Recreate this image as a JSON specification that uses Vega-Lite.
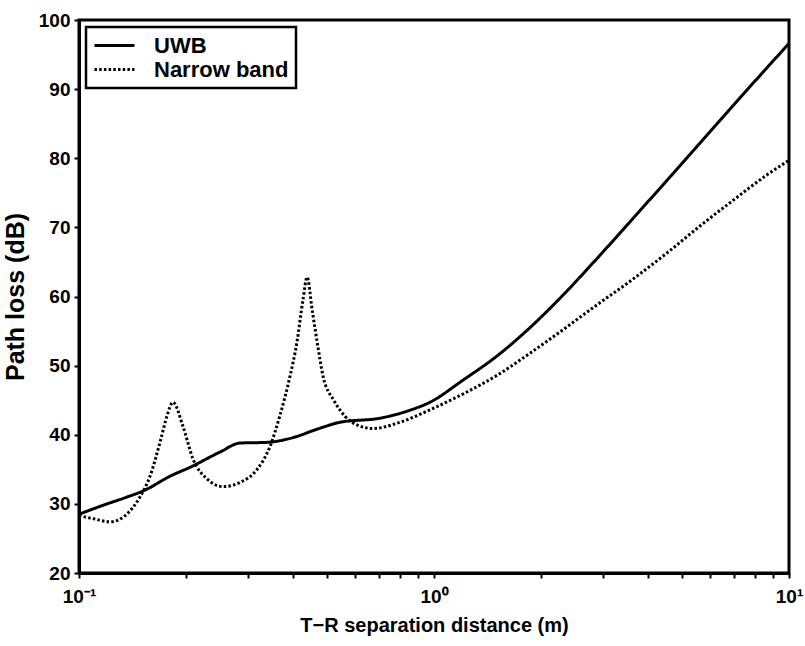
{
  "$schema": "https://vega.github.io/schema/vega-lite/v6.json",
  "width": 710,
  "height": 553,
  "autosize": {"type": "none"},
  "padding": {"left": 79, "top": 20, "right": 16, "bottom": 73},
  "background": "white",
  "config": {
    "view": {"stroke": "black", "strokeWidth": 3},
    "font": "Liberation Sans",
    "legend": {"strokeWidth": 2.5},
    "axis": {
      "grid": false,
      "ticks": true,
      "tickColor": "black",
      "tickWidth": 2,
      "domainColor": "black",
      "domainWidth": 3,
      "labelFont": "Liberation Sans",
      "labelFontWeight": "bold",
      "labelFontSize": 19,
      "labelColor": "black",
      "titleFont": "Liberation Sans",
      "titleFontWeight": "bold",
      "titleFontSize": 20,
      "titleColor": "black"
    }
  },
  "data": {
    "values": [
      {"d": 0.1, "loss": 28.5, "series": "UWB"},
      {"d": 0.1169, "loss": 29.8, "series": "UWB"},
      {"d": 0.135, "loss": 30.9, "series": "UWB"},
      {"d": 0.1535, "loss": 32.0, "series": "UWB"},
      {"d": 0.1804, "loss": 34.0, "series": "UWB"},
      {"d": 0.2056, "loss": 35.3, "series": "UWB"},
      {"d": 0.2496, "loss": 37.5, "series": "UWB"},
      {"d": 0.2843, "loss": 38.8, "series": "UWB"},
      {"d": 0.3388, "loss": 38.9, "series": "UWB"},
      {"d": 0.4013, "loss": 39.6, "series": "UWB"},
      {"d": 0.468, "loss": 40.8, "series": "UWB"},
      {"d": 0.5432, "loss": 41.8, "series": "UWB"},
      {"d": 0.7046, "loss": 42.4, "series": "UWB"},
      {"d": 0.85, "loss": 43.5, "series": "UWB"},
      {"d": 0.974, "loss": 44.7, "series": "UWB"},
      {"d": 1.207, "loss": 47.9, "series": "UWB"},
      {"d": 1.505, "loss": 51.4, "series": "UWB"},
      {"d": 1.864, "loss": 55.5, "series": "UWB"},
      {"d": 2.309, "loss": 60.2, "series": "UWB"},
      {"d": 2.879, "loss": 65.5, "series": "UWB"},
      {"d": 3.636, "loss": 71.3, "series": "UWB"},
      {"d": 4.532, "loss": 76.8, "series": "UWB"},
      {"d": 5.615, "loss": 82.2, "series": "UWB"},
      {"d": 6.955, "loss": 87.6, "series": "UWB"},
      {"d": 8.67, "loss": 93.1, "series": "UWB"},
      {"d": 10, "loss": 96.6, "series": "UWB"},
      {"d": 0.1, "loss": 28.3, "series": "Narrow band"},
      {"d": 0.111, "loss": 27.8, "series": "Narrow band"},
      {"d": 0.1223, "loss": 27.4, "series": "Narrow band"},
      {"d": 0.1348, "loss": 28.3, "series": "Narrow band"},
      {"d": 0.1485, "loss": 31.0, "series": "Narrow band"},
      {"d": 0.1585, "loss": 34.0, "series": "Narrow band"},
      {"d": 0.1701, "loss": 39.4, "series": "Narrow band"},
      {"d": 0.1769, "loss": 42.7, "series": "Narrow band"},
      {"d": 0.184, "loss": 44.7, "series": "Narrow band"},
      {"d": 0.1963, "loss": 41.2, "series": "Narrow band"},
      {"d": 0.2095, "loss": 36.5, "series": "Narrow band"},
      {"d": 0.2296, "loss": 33.6, "series": "Narrow band"},
      {"d": 0.2544, "loss": 32.5, "series": "Narrow band"},
      {"d": 0.2843, "loss": 33.1, "series": "Narrow band"},
      {"d": 0.3175, "loss": 35.0, "series": "Narrow band"},
      {"d": 0.3452, "loss": 38.3, "series": "Narrow band"},
      {"d": 0.3677, "loss": 42.7, "series": "Narrow band"},
      {"d": 0.3927, "loss": 48.4, "series": "Narrow band"},
      {"d": 0.4111, "loss": 53.4, "series": "Narrow band"},
      {"d": 0.4277, "loss": 59.6, "series": "Narrow band"},
      {"d": 0.4391, "loss": 62.8, "series": "Narrow band"},
      {"d": 0.4536, "loss": 58.1, "series": "Narrow band"},
      {"d": 0.4687, "loss": 53.4, "series": "Narrow band"},
      {"d": 0.4873, "loss": 48.4, "series": "Narrow band"},
      {"d": 0.5203, "loss": 45.1, "series": "Narrow band"},
      {"d": 0.5432, "loss": 43.6, "series": "Narrow band"},
      {"d": 0.5797, "loss": 42.0, "series": "Narrow band"},
      {"d": 0.6733, "loss": 40.9, "series": "Narrow band"},
      {"d": 0.8014, "loss": 41.8, "series": "Narrow band"},
      {"d": 0.974, "loss": 43.6, "series": "Narrow band"},
      {"d": 1.207, "loss": 45.9, "series": "Narrow band"},
      {"d": 1.505, "loss": 48.6, "series": "Narrow band"},
      {"d": 1.864, "loss": 51.8, "series": "Narrow band"},
      {"d": 2.309, "loss": 55.2, "series": "Narrow band"},
      {"d": 2.879, "loss": 58.8, "series": "Narrow band"},
      {"d": 3.566, "loss": 62.2, "series": "Narrow band"},
      {"d": 4.532, "loss": 66.3, "series": "Narrow band"},
      {"d": 5.615, "loss": 70.2, "series": "Narrow band"},
      {"d": 6.955, "loss": 73.9, "series": "Narrow band"},
      {"d": 8.67, "loss": 77.6, "series": "Narrow band"},
      {"d": 10, "loss": 79.7, "series": "Narrow band"}
    ]
  },
  "mark": {"type": "line", "interpolate": "monotone", "strokeWidth": 3, "color": "black"},
  "encoding": {
    "x": {
      "field": "d", "type": "quantitative",
      "scale": {"type": "log", "domain": [0.1, 10], "nice": false},
      "axis": {
        "orient": "bottom",
        "title": "T−R separation distance (m)",
        "titlePadding": 9,
        "values": [0.1, 0.2, 0.3, 0.4, 0.5, 0.6, 0.7, 0.8, 0.9, 1, 2, 3, 4, 5, 6, 7, 8, 9, 10],
        "labelExpr": "datum.value == 0.1 ? '10⁻¹' : datum.value == 1 ? '10⁰' : datum.value == 10 ? '10¹' : ''",
        "tickSize": 5,
        "labelPadding": 9,
        "labelFlush": false
      }
    },
    "y": {
      "field": "loss", "type": "quantitative",
      "scale": {"domain": [20, 100], "nice": false},
      "axis": {
        "orient": "left",
        "title": "Path loss (dB)",
        "titleFontSize": 25,
        "values": [20, 30, 40, 50, 60, 70, 80, 90, 100],
        "tickSize": 5,
        "labelPadding": 4,
        "titlePadding": 10
      }
    },
    "strokeDash": {
      "field": "series", "type": "nominal",
      "scale": {"domain": ["UWB", "Narrow band"], "range": [[1, 0], [2.5, 2.2]]},
      "legend": {
        "title": null,
        "orient": "top-left",
        "offset": 7,
        "strokeColor": "black",
        "fillColor": "white",
        "padding": 7,
        "symbolType": "M-1,0H3",
        "symbolSize": 400,
        "symbolStrokeWidth": 3,
        "symbolStrokeColor": "black",
        "symbolFillColor": "transparent",
        "labelFont": "Liberation Sans",
        "labelFontWeight": "bold",
        "labelFontSize": 22,
        "labelColor": "black",
        "rowPadding": 1,
        "labelOffset": 38
      }
    }
  }
}
